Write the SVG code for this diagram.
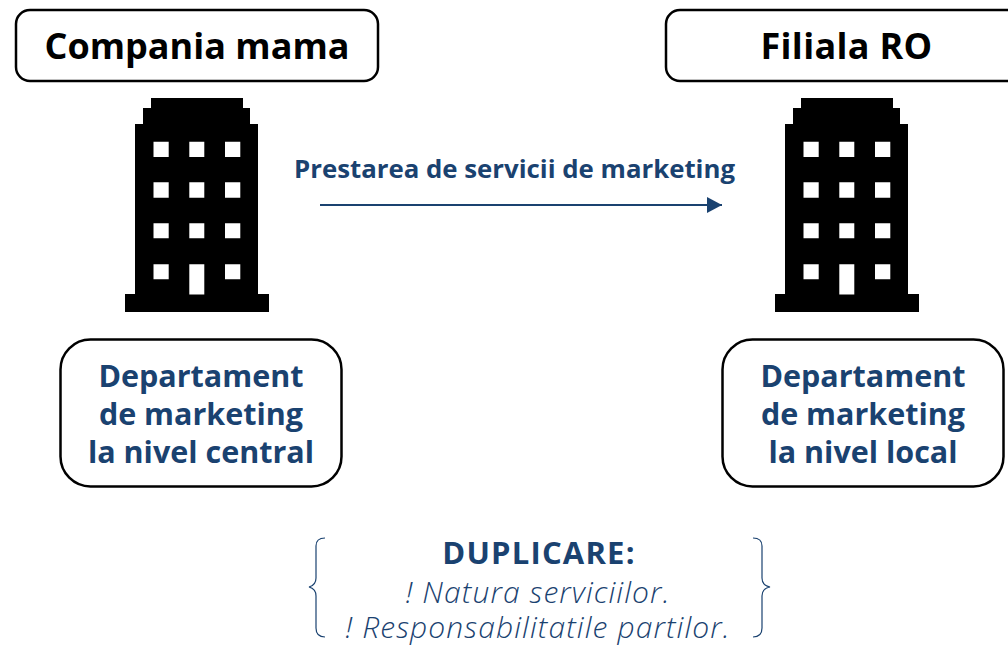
<svg xmlns="http://www.w3.org/2000/svg" width="1008" height="645" viewBox="0 0 1008 645">
<style>
.box{fill:#fff;stroke:#000;stroke-width:2.5}
text{font-family:"Open Sans","Noto Sans",sans-serif;text-anchor:middle;font-variant-ligatures:none}
.h{font-size:36px;font-weight:700;fill:#000}
.d{font-size:30.500px;font-weight:700;fill:#1a4270}
.l{font-size:25.800px;font-weight:700;fill:#1a4270}
.t{font-size:31px;font-weight:700;letter-spacing:1.200px;fill:#1a4270}
.i{font-size:30px;font-style:italic;font-weight:300;letter-spacing:1.100px;fill:#1a4270}
.b{fill:none;stroke:#1a4270;stroke-width:1.200}
</style>
<defs>
<marker id="arrow" markerUnits="userSpaceOnUse" markerWidth="16" markerHeight="16" refX="15" refY="8" orient="auto"><path d="M0 0L15 8L0 16Z" fill="#1a4270"/></marker>
<g id="building">
<path fill-rule="evenodd" fill="#000" d="M151 98H243V108H250V124H258V294H269V312H125V294H135V124H143V108H151ZM153.500 141.700V157H168.700V141.700ZM189.300 141.700V157H204.300V141.700ZM225 141.700V157H240.300V141.700ZM153.500 182.300V197.700H168.700V182.300ZM189.300 182.300V197.700H204.300V182.300ZM225 182.300V197.700H240.300V182.300ZM153.500 223.300V238.300H168.700V223.300ZM189.300 223.300V238.300H204.300V223.300ZM225 223.300V238.300H240.300V223.300ZM153.500 264.300V279.300H168.700V264.300ZM189.300 264.300V294.500H204.300V264.300ZM225 264.300V279.300H240.300V264.300Z"/>
</g>
</defs>
<g id="node-compania"><rect class="box" x="16" y="10" width="362" height="71" rx="14"/><text class="h" x="197" y="59">Compania mama</text></g>
<g id="node-filiala"><rect class="box" x="666" y="10" width="362" height="71" rx="14"/><text class="h" x="846.500" y="59" style="letter-spacing:.3px">Filiala RO</text></g>
<g id="building-1"><use href="#building"/></g>
<g id="building-2"><use href="#building" x="650"/></g>
<g id="node-dep-central"><rect class="box" x="60.500" y="339.500" width="281" height="147" rx="30"/>
<text class="d" x="201" y="387">Departament</text><text class="d" x="201" y="425">de marketing</text><text class="d" x="201" y="463">la nivel central</text></g>
<g id="node-dep-local"><rect class="box" x="722.500" y="339.500" width="281" height="147" rx="30"/>
<text class="d" x="863" y="387">Departament</text><text class="d" x="863" y="425">de marketing</text><text class="d" x="863" y="463">la nivel local</text></g>
<g id="connectors"><line x1="320" y1="205" x2="722" y2="205" stroke="#1a4270" stroke-width="2.200" marker-end="url(#arrow)"/></g>
<text class="l" x="514.500" y="178">Prestarea de servicii de marketing</text>
<g id="note">
<path class="b" d="M325 538C319 538 316 541 316 546V578C316 583 313 586 309 587C313 588 316 591 316 596V628C316 634 319 637 325 637"/>
<path class="b" d="M753 538C759 538 762 541 762 546V578C762 583 765 586 770 587C765 588 762 591 762 596V628C762 634 759 637 753 637"/>
<text class="t" x="539" y="564">DUPLICARE:</text>
<text class="i" x="538" y="603">! Natura serviciilor.</text>
<text class="i" x="538" y="638">! Responsabilitatile partilor.</text>
</g>
</svg>
